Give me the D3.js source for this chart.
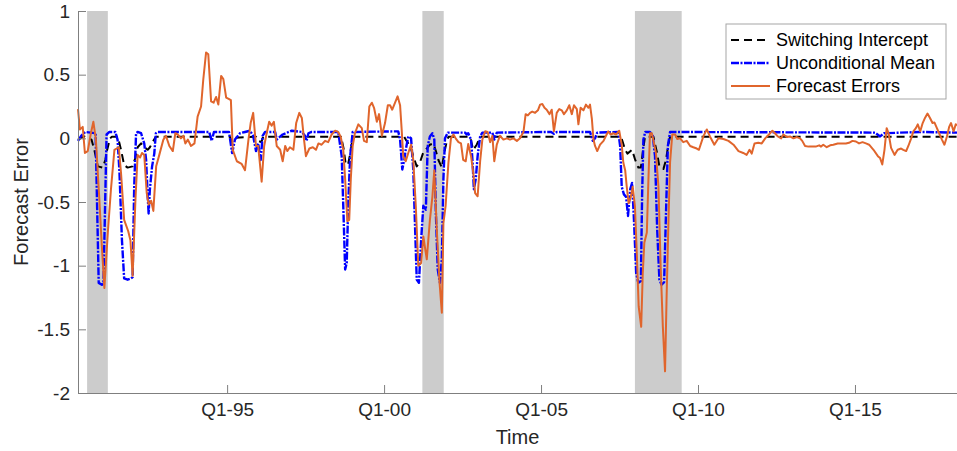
<!DOCTYPE html>
<html lang="en">
<head>
    <meta charset="UTF-8">
    <title>Forecast Errors</title>
    <style>
        body {
            margin: 0;
            background: #fff;
        }

        svg {
            display: block;
            font-family: "Liberation Sans", Arial, sans-serif;
        }

        .axis path,
        .axis line {
            stroke: #7f7f7f;
            stroke-width: 1px;
        }

        .axis text {
            font-size: 19px;
            fill: #262626;
        }

        .recession {
            fill: #cccccc;
        }

        .line {
            fill: none;
            stroke-linejoin: round;
        }
    </style>
</head>
<body>
    <div id="chart"></div>
    <script src="https://d3js.org/d3.v7.min.js"></script>
    <script>
        // Recession shading (decimal years)
        const recStart = [1990.54, 2001.22, 2007.99];
        const recEnd = [1991.20, 2001.90, 2009.48];

        // Axis ticks
        const xTickYears = [1995, 2000, 2005, 2010, 2015];
        const xTickLabels = ["Q1-95", "Q1-00", "Q1-05", "Q1-10", "Q1-15"];
        const yTicks = [-2, -1.5, -1, -0.5, 0, 0.5, 1];

        // Switching intercept (black dashed)
        const switchDates = [
            1990.25, 1990.45, 1990.68, 1990.77, 1990.88, 1991.04, 1991.12, 1991.17, 1991.27, 1991.33,
            1991.52, 1991.62, 1991.72, 1991.83, 1991.99, 1992.08, 1992.15, 1992.26, 1992.36, 1992.47,
            1992.54, 1992.65, 1992.73, 1995.09, 1995.16, 1995.25, 1995.92, 1995.99, 1996.09, 1996.15,
            1998.63, 1998.71, 1998.77, 1998.85, 1998.92, 1998.98, 1999.04, 2000.64, 2000.69, 2000.83,
            2000.93, 2001.04, 2001.14, 2001.25, 2001.36, 2001.46, 2001.57, 2001.65, 2001.73, 2001.84,
            2001.92, 2002.00, 2002.05, 2002.74, 2002.84, 2002.95, 2003.06, 2007.55, 2007.68, 2007.75,
            2007.90, 2008.00, 2008.10, 2008.18, 2008.24, 2008.31, 2008.58, 2008.69, 2008.77, 2008.90,
            2008.98, 2009.06, 2009.11, 2018.25
        ];
        const switchValues = [
            -0.01, 0.015, -0.01, -0.09, -0.22, -0.23, -0.17, -0.10, 0.0, 0.012,
            0.012, -0.09, -0.21, -0.23, -0.22, -0.15, -0.07, -0.04, -0.07, -0.09,
            -0.07, -0.02, 0.012, 0.012, -0.03, 0.005, 0.012, -0.02, -0.03, 0.012,
            0.012, -0.08, -0.19, -0.21, -0.12, -0.03, 0.012, 0.012, -0.01, -0.06,
            -0.14, -0.22, -0.19, -0.11, -0.08, -0.05, -0.04, -0.10, -0.17, -0.23,
            -0.11, -0.02, 0.012, 0.012, -0.09, -0.05, 0.012, 0.012, -0.09, -0.12,
            -0.09, -0.17, -0.23, -0.23, -0.11, 0.012, 0.012, -0.11, -0.22, -0.24,
            -0.17, -0.04, 0.012, 0.012
        ];

        // Unconditional mean (blue dash-dot)
        const meanDates = [
            1990.25, 1990.35, 1990.48, 1990.81, 1990.91, 1991.01, 1991.06, 1991.09, 1991.16, 1991.25,
            1991.44, 1991.51, 1991.57, 1991.65, 1991.72, 1991.83, 1991.94, 1991.99, 1992.04, 1992.10,
            1992.15, 1992.26, 1992.36, 1992.42, 1992.47, 1992.50, 1992.54, 1992.61, 1992.68, 1992.73,
            1992.79, 1994.43, 1994.51, 1994.58, 1995.06, 1995.16, 1995.25, 1995.41, 1995.57, 1995.73,
            1995.83, 1995.92, 1995.99, 1996.07, 1996.13, 1996.21, 1996.53, 1996.58, 1996.77, 1997.06,
            1997.38, 1997.48, 1997.53, 1997.59, 1997.69, 1998.54, 1998.65, 1998.70, 1998.76, 1998.81,
            1998.86, 1998.92, 1999.00, 2000.45, 2000.51, 2000.58, 2000.64, 2000.69, 2000.77, 2000.86,
            2000.93, 2000.99, 2001.04, 2001.11, 2001.18, 2001.25, 2001.33, 2001.39, 2001.46, 2001.54,
            2001.60, 2001.65, 2001.71, 2001.78, 2001.84, 2001.89, 2001.94, 2002.03, 2002.58, 2002.63,
            2002.68, 2002.77, 2002.82, 2002.86, 2002.92, 2002.98, 2003.06, 2003.13, 2003.45, 2003.51,
            2003.59, 2005.32, 2005.41, 2005.50, 2006.56, 2006.65, 2006.72, 2006.79, 2007.46, 2007.52,
            2007.57, 2007.64, 2007.71, 2007.77, 2007.84, 2007.90, 2007.96, 2008.03, 2008.10, 2008.18,
            2008.22, 2008.26, 2008.32, 2008.47, 2008.56, 2008.63, 2008.70, 2008.77, 2008.84, 2008.92,
            2008.98, 2009.04, 2009.11, 2015.64, 2015.80, 2015.93, 2017.07, 2018.25
        ];
        const meanValues = [
            -0.02, 0.02, 0.05, 0.04, -1.135, -1.15, -1.14, -0.80, 0.03, 0.05,
            0.05, -0.01, -0.26, -0.80, -1.10, -1.11, -1.10, -1.09, -0.38, 0.04,
            0.05, 0.04, -0.04, -0.17, -0.455, -0.59, -0.40, -0.22, -0.12, 0.04,
            0.05, 0.05, -0.02, 0.05, 0.05, -0.115, -0.01, 0.04, 0.05, 0.06,
            0.02, -0.10, -0.04, -0.17, 0.02, 0.05, 0.05, -0.01, 0.03, 0.06,
            0.05, 0.02, -0.02, 0.04, 0.05, 0.05, -0.14, -0.53, -1.03, -0.98,
            -0.50, -0.14, 0.05, 0.055, -0.01, -0.245, -0.17, -0.09, 0.015, 0.0,
            -0.245, -0.72, -1.11, -1.135, -0.80, -0.53, -0.56, -0.06, 0.015, 0.04,
            -0.01, -0.59, -1.03, -1.135, -0.95, -0.32, 0.0, 0.045, 0.045, 0.03,
            0.04, -0.01, -0.19, -0.40, -0.32, -0.14, 0.015, 0.045, 0.045, -0.01,
            0.045, 0.05, 0.035, 0.05, 0.05, -0.02, 0.0, 0.045, 0.05, -0.06,
            -0.38, -0.44, -0.46, -0.61, -0.40, -0.35, -0.64, -1.06, -1.135, -1.12,
            -0.44, -0.01, 0.05, 0.05, 0.02, -0.14, -0.72, -1.11, -1.15, -1.13,
            -0.59, -0.06, 0.05, 0.045, 0.015, 0.04, 0.05, 0.045
        ];

        // Forecast errors (orange solid)
        const errDates = [
            1990.25, 1990.31, 1990.40, 1990.47, 1990.56, 1990.66, 1990.74, 1990.82, 1990.93, 1991.01,
            1991.09, 1991.20, 1991.30, 1991.41, 1991.55, 1991.62, 1991.72, 1991.85, 1991.92, 1991.99,
            1992.08, 1992.15, 1992.23, 1992.29, 1992.36, 1992.44, 1992.50, 1992.58, 1992.65, 1992.74,
            1992.84, 1992.97, 1993.05, 1993.16, 1993.27, 1993.35, 1993.43, 1993.53, 1993.61, 1993.67,
            1993.75, 1993.85, 1993.96, 1994.06, 1994.17, 1994.24, 1994.33, 1994.40, 1994.49, 1994.57,
            1994.65, 1994.72, 1994.81, 1994.88, 1994.97, 1995.05, 1995.12, 1995.18, 1995.31, 1995.46,
            1995.57, 1995.68, 1995.75, 1995.83, 1995.92, 1995.99, 1996.10, 1996.18, 1996.26, 1996.34,
            1996.42, 1996.49, 1996.58, 1996.69, 1996.77, 1996.85, 1996.92, 1997.00, 1997.11, 1997.20,
            1997.30, 1997.38, 1997.45, 1997.51, 1997.62, 1997.73, 1997.83, 1997.91, 1998.01, 1998.12,
            1998.22, 1998.33, 1998.44, 1998.54, 1998.62, 1998.70, 1998.76, 1998.83, 1998.89, 1998.94,
            1999.00, 1999.07, 1999.18, 1999.29, 1999.36, 1999.45, 1999.53, 1999.61, 1999.68, 1999.77,
            1999.84, 1999.93, 2000.03, 2000.12, 2000.19, 2000.26, 2000.35, 2000.43, 2000.51, 2000.56,
            2000.61, 2000.69, 2000.77, 2000.86, 2000.93, 2001.01, 2001.09, 2001.18, 2001.25, 2001.36,
            2001.46, 2001.54, 2001.60, 2001.68, 2001.76, 2001.84, 2001.89, 2001.96, 2002.05, 2002.13,
            2002.21, 2002.28, 2002.37, 2002.45, 2002.52, 2002.60, 2002.68, 2002.77, 2002.84, 2002.90,
            2002.98, 2003.06, 2003.13, 2003.22, 2003.30, 2003.38, 2003.45, 2003.51, 2003.59, 2003.69,
            2003.80, 2003.91, 2004.01, 2004.12, 2004.23, 2004.33, 2004.44, 2004.51, 2004.58, 2004.65,
            2004.72, 2004.81, 2004.90, 2004.97, 2005.04, 2005.11, 2005.18, 2005.27, 2005.34, 2005.41,
            2005.50, 2005.58, 2005.66, 2005.73, 2005.82, 2005.90, 2005.98, 2006.05, 2006.14, 2006.19,
            2006.26, 2006.35, 2006.43, 2006.51, 2006.56, 2006.62, 2006.67, 2006.72, 2006.79, 2006.88,
            2006.99, 2007.07, 2007.14, 2007.22, 2007.30, 2007.39, 2007.49, 2007.57, 2007.62, 2007.68,
            2007.73, 2007.79, 2007.86, 2007.92, 2007.99, 2008.05, 2008.11, 2008.19, 2008.24, 2008.29,
            2008.37, 2008.42, 2008.47, 2008.53, 2008.60, 2008.66, 2008.74, 2008.81, 2008.88, 2008.95,
            2009.00, 2009.06, 2009.11, 2009.18, 2009.27, 2009.34, 2009.43, 2009.53, 2009.64, 2009.75,
            2009.85, 2009.96, 2010.03, 2010.17, 2010.28, 2010.38, 2010.52, 2010.65, 2010.81, 2010.97,
            2011.13, 2011.29, 2011.44, 2011.55, 2011.64, 2011.71, 2011.80, 2011.92, 2012.03, 2012.14,
            2012.26, 2012.37, 2012.45, 2012.54, 2012.65, 2012.72, 2012.83, 2012.93, 2013.04, 2013.15,
            2013.25, 2013.32, 2013.41, 2013.52, 2013.64, 2013.75, 2013.86, 2013.92, 2013.99, 2014.10,
            2014.21, 2014.31, 2014.45, 2014.58, 2014.71, 2014.81, 2014.92, 2015.03, 2015.13, 2015.24,
            2015.35, 2015.45, 2015.59, 2015.73, 2015.80, 2015.87, 2015.94, 2016.01, 2016.07, 2016.15,
            2016.26, 2016.36, 2016.47, 2016.54, 2016.63, 2016.70, 2016.79, 2016.86, 2016.94, 2017.00,
            2017.08, 2017.15, 2017.23, 2017.31, 2017.39, 2017.47, 2017.53, 2017.61, 2017.68, 2017.77,
            2017.85, 2017.93, 2018.00, 2018.06, 2018.14, 2018.21, 2018.25
        ];
        const errValues = [
            0.23, 0.07, 0.09, -0.115, -0.10, 0.04, 0.13, -0.01, -0.48, -0.85,
            -1.175, -0.74, -0.40, -0.09, -0.07, -0.27, -0.64, -0.73, -0.80, -1.08,
            -0.48, -0.13, -0.15, -0.115, -0.13, -0.43, -0.52, -0.49, -0.57, -0.22,
            -0.13, -0.01, 0.02, -0.06, -0.10, 0.04, 0.03, 0.0, 0.02, -0.04,
            -0.01, -0.06, -0.04, 0.17, 0.25, 0.46, 0.675, 0.66, 0.29, 0.28,
            0.325, 0.265, 0.49, 0.465, 0.32, 0.31, 0.30, -0.09, -0.18, -0.20,
            -0.25, -0.01, 0.12, 0.20, -0.06, -0.06, -0.34, -0.06, 0.04, 0.13,
            0.10, 0.13, -0.06, -0.09, -0.18, -0.06, -0.10, -0.07, -0.09, 0.12,
            0.20, 0.16, -0.01, -0.14, -0.08, -0.07, -0.09, -0.04, -0.05, -0.02,
            -0.03, 0.03, 0.06, 0.05, 0.01, -0.09, -0.32, -0.65, -0.64, -0.32,
            -0.06, 0.04, 0.11, 0.08, -0.02, -0.03, 0.25, 0.28, 0.24, 0.13,
            0.19, 0.02, 0.12, 0.26, 0.26, 0.225, 0.28, 0.33, 0.26, 0.07,
            -0.14, -0.18, -0.115, -0.05, -0.17, -0.53, -1.0, -0.98, -0.77, -0.95,
            -0.64, -0.455, -0.25, -0.72, -1.11, -1.37, -0.665, -0.53, -0.19, 0.0,
            0.03, 0.0, -0.03, -0.04, -0.17, -0.18, -0.045, -0.14, -0.27, -0.43,
            -0.455, -0.18, -0.01, 0.055, 0.05, -0.03, 0.02, -0.18, -0.05, 0.02,
            -0.01, 0.0, -0.01, 0.0, -0.02, 0.0, 0.05, 0.19, 0.18, 0.20,
            0.21, 0.20, 0.22, 0.265, 0.27, 0.24, 0.225, 0.19, 0.225, 0.055,
            0.20, 0.23, 0.22, 0.19, 0.22, 0.26, 0.19, 0.26, 0.23, 0.11,
            0.24, 0.22, 0.265, 0.24, 0.265, 0.15, -0.01, -0.06, -0.10, -0.05,
            -0.02, 0.02, 0.055, 0.03, 0.04, 0.03, 0.06, -0.05, -0.19, -0.25,
            -0.38, -0.51, -0.46, -0.38, -0.53, -0.90, -1.32, -1.48, -1.06, -0.82,
            -0.74, -0.325, 0.04, 0.04, -0.04, -0.115, -0.38, -1.0, -1.48, -1.83,
            -1.24, -0.64, -0.19, 0.03, 0.03, -0.005, 0.0, -0.03, -0.02, -0.06,
            -0.07, -0.08, -0.09, 0.015, 0.07, 0.015, -0.05, 0.0, -0.005, -0.02,
            -0.05, -0.10, -0.115, -0.13, -0.09, -0.12, -0.04, -0.035, -0.04, 0.0,
            0.03, 0.06, 0.04, 0.015, 0.0, 0.03, 0.01, 0.015, 0.0, 0.01,
            0.0, -0.02, -0.06, -0.065, -0.065, -0.065, -0.055, -0.065, -0.05, -0.07,
            -0.055, -0.05, -0.04, -0.04, -0.04, -0.035, -0.02, -0.025, -0.04, -0.03,
            -0.04, -0.05, -0.09, -0.14, -0.155, -0.205, -0.09, 0.08, 0.04, -0.075,
            -0.13, -0.09, -0.08, -0.09, -0.10, -0.06, 0.0, 0.055, 0.08, 0.11,
            0.055, 0.115, 0.16, 0.195, 0.16, 0.12, 0.125, 0.08, 0.04, -0.01,
            -0.05, 0.015, 0.09, 0.12, 0.055, 0.11, 0.10
        ];

        const series = [
            { name: "Switching Intercept", dates: switchDates, values: switchValues, color: "#000000", width: 2, dash: "8,5" },
            { name: "Unconditional Mean", dates: meanDates, values: meanValues, color: "#0000ff", width: 2.4, dash: "8,1.5,2,1.5" },
            { name: "Forecast Errors", dates: errDates, values: errValues, color: "#e0652c", width: 2, dash: null }
        ];

        // Dimensions
        const width = 957, height = 451;
        const margin = { top: 11, right: 0, bottom: 58, left: 78 };

        const svg = d3.select("#chart").append("svg")
            .attr("width", width)
            .attr("height", height);

        const x = d3.scaleLinear()
            .domain([1990.25, 2018.25])
            .range([margin.left, width - margin.right]);

        const y = d3.scaleLinear()
            .domain([-2, 1])
            .range([height - margin.bottom, margin.top]);

        // Recession bands
        svg.selectAll(".recession")
            .data(recStart)
            .enter().append("rect")
            .attr("class", "recession")
            .attr("x", (d, i) => x(d))
            .attr("width", (d, i) => x(recEnd[i]) - x(d))
            .attr("y", y(1))
            .attr("height", y(-2) - y(1));

        // Lines
        const line = d3.line()
            .x(d => x(d[0]))
            .y(d => y(d[1]));

        series.forEach(s => {
            const pts = s.dates.map((d, i) => [d, s.values[i]]);
            svg.append("path")
                .datum(pts)
                .attr("class", "line")
                .attr("stroke", s.color)
                .attr("stroke-width", s.width)
                .attr("stroke-dasharray", s.dash)
                .attr("d", line);
        });

        // Axes, ticks point inward like the original
        svg.append("g")
            .attr("class", "axis")
            .attr("transform", "translate(0," + y(-2) + ")")
            .call(d3.axisBottom(x)
                .tickValues(xTickYears)
                .tickFormat((d, i) => xTickLabels[i])
                .tickSizeInner(-8)
                .tickSizeOuter(0)
                .tickPadding(10));

        svg.append("g")
            .attr("class", "axis")
            .attr("transform", "translate(" + margin.left + ",0)")
            .call(d3.axisLeft(y)
                .tickValues(yTicks)
                .tickFormat(d => String(d))
                .tickSizeInner(-8)
                .tickSizeOuter(0)
                .tickPadding(8));

        // Axis titles
        svg.append("text")
            .attr("x", (x.range()[0] + x.range()[1]) / 2)
            .attr("y", 444)
            .attr("text-anchor", "middle")
            .style("font-size", "20px")
            .style("fill", "#262626")
            .text("Time");

        svg.append("text")
            .attr("transform", "translate(28," + (y(-2) + y(1)) / 2 + ") rotate(-90)")
            .attr("text-anchor", "middle")
            .style("font-size", "20px")
            .style("fill", "#262626")
            .text("Forecast Error");

        // Legend
        const legend = svg.append("g").attr("transform", "translate(726,24)");
        legend.append("rect")
            .attr("width", 220)
            .attr("height", 75)
            .attr("fill", "#fff")
            .attr("stroke", "#a6a6a6")
            .attr("stroke-width", 1);

        series.forEach((s, i) => {
            const ly = 16 + i * 23;
            legend.append("line")
                .attr("x1", 5).attr("x2", 44)
                .attr("y1", ly).attr("y2", ly)
                .attr("stroke", s.color)
                .attr("stroke-width", s.width)
                .attr("stroke-dasharray", s.dash);
            legend.append("text")
                .attr("x", 50)
                .attr("y", ly)
                .attr("dy", "0.35em")
                .style("font-size", "18px")
                .style("fill", "#000")
                .text(s.name);
        });
    </script>
</body>
</html>
